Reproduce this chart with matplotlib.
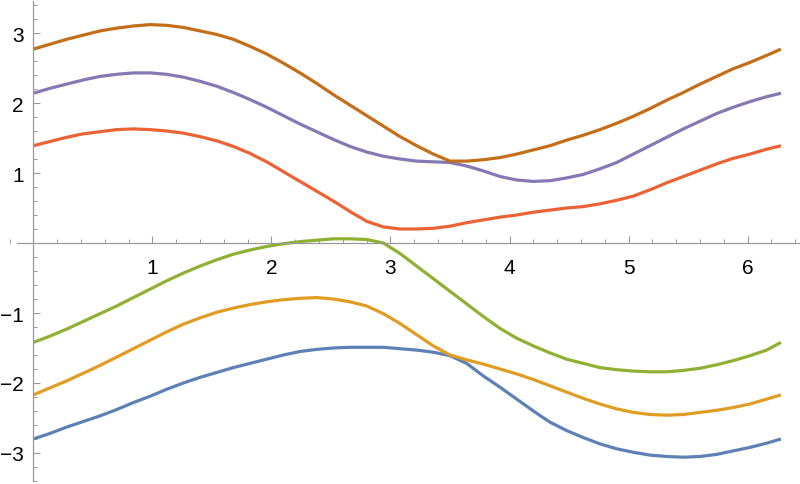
import numpy as np
from matplotlib import pyplot as plt
from matplotlib.ticker import MultipleLocator

# sample positions (shared by all curves)
x = [0.00, 0.14, 0.28, 0.42, 0.56, 0.70, 0.84, 0.98, 1.12, 1.26, 1.40, 1.54,
     1.68, 1.82, 1.96, 2.10, 2.24, 2.38, 2.52, 2.66, 2.80, 2.94, 3.08, 3.22,
     3.36, 3.50, 3.64, 3.78, 3.92, 4.06, 4.20, 4.34, 4.48, 4.62, 4.76, 4.90,
     5.04, 5.18, 5.32, 5.46, 5.60, 5.74, 5.88, 6.02, 6.16, 6.28]

blue = [-2.80, -2.72, -2.63, -2.55, -2.47, -2.38, -2.28, -2.19, -2.09, -2.00,
        -1.92, -1.85, -1.78, -1.72, -1.66, -1.60, -1.55, -1.52, -1.50, -1.49,
        -1.49, -1.49, -1.51, -1.53, -1.56, -1.61, -1.72, -1.90, -2.06, -2.23,
        -2.40, -2.56, -2.68, -2.78, -2.87, -2.94, -2.99, -3.03, -3.05, -3.06,
        -3.05, -3.02, -2.97, -2.92, -2.86, -2.80]
orange = [-2.17, -2.07, -1.97, -1.86, -1.75, -1.63, -1.51, -1.39, -1.27, -1.16,
          -1.07, -0.99, -0.93, -0.88, -0.84, -0.81, -0.79, -0.78, -0.80, -0.84,
          -0.90, -1.01, -1.15, -1.31, -1.47, -1.60, -1.67, -1.73, -1.80, -1.87,
          -1.95, -2.04, -2.13, -2.22, -2.30, -2.37, -2.42, -2.45, -2.46, -2.45,
          -2.42, -2.39, -2.35, -2.30, -2.23, -2.17]
green = [-1.42, -1.33, -1.23, -1.12, -1.01, -0.90, -0.78, -0.66, -0.54, -0.43,
         -0.33, -0.24, -0.16, -0.10, -0.05, -0.01, 0.02, 0.04, 0.06, 0.06,
         0.05, 0.00, -0.15, -0.33, -0.51, -0.69, -0.87, -1.05, -1.22, -1.36,
         -1.47, -1.57, -1.66, -1.72, -1.78, -1.81, -1.83, -1.84, -1.84, -1.82,
         -1.79, -1.74, -1.68, -1.61, -1.53, -1.42]
red = [1.39, 1.45, 1.51, 1.56, 1.59, 1.62, 1.63, 1.62, 1.60, 1.57,
       1.52, 1.46, 1.38, 1.28, 1.16, 1.02, 0.88, 0.74, 0.60, 0.45,
       0.31, 0.23, 0.20, 0.20, 0.21, 0.24, 0.29, 0.33, 0.37, 0.40,
       0.44, 0.47, 0.50, 0.52, 0.56, 0.61, 0.67, 0.76, 0.86, 0.95,
       1.04, 1.13, 1.21, 1.27, 1.34, 1.39]
purple = [2.14, 2.21, 2.27, 2.33, 2.38, 2.41, 2.43, 2.43, 2.41, 2.37,
          2.31, 2.24, 2.15, 2.05, 1.94, 1.82, 1.70, 1.59, 1.48, 1.38,
          1.30, 1.24, 1.20, 1.17, 1.16, 1.15, 1.10, 1.03, 0.95, 0.90,
          0.88, 0.89, 0.93, 0.98, 1.06, 1.15, 1.27, 1.39, 1.51, 1.63,
          1.74, 1.85, 1.94, 2.02, 2.09, 2.14]
brown = [2.77, 2.84, 2.91, 2.97, 3.03, 3.07, 3.10, 3.12, 3.11, 3.08,
         3.03, 2.98, 2.91, 2.81, 2.70, 2.57, 2.43, 2.28, 2.12, 1.97,
         1.82, 1.67, 1.52, 1.39, 1.27, 1.17, 1.17, 1.19, 1.22, 1.27,
         1.33, 1.39, 1.47, 1.54, 1.62, 1.71, 1.81, 1.92, 2.04, 2.15,
         2.27, 2.38, 2.49, 2.58, 2.68, 2.77]

series = [blue, orange, green, red, purple, brown]
colours = ['#5E81B5', '#E19C24', '#8FB032', '#EB6235', '#8778B3', '#C56E1A']

plt.rcParams['font.family'] = ['Liberation Sans', 'DejaVu Sans']

fig = plt.figure(figsize=(8, 4.85), dpi=100)
ax = fig.add_axes([0, 0, 1, 1])

for ys, c in zip(series, colours):
    ax.plot(x, ys, color=c, lw=2.3, solid_capstyle='butt', solid_joinstyle='round')

ax.set_xlim(-0.28, 6.44)
ax.set_ylim(-3.443, 3.486)

# axes through the origin, Mathematica style
ax.spines['left'].set_position(('data', 0))
ax.spines['bottom'].set_position(('data', 0))
ax.spines['right'].set_visible(False)
ax.spines['top'].set_visible(False)
ax.spines['left'].set_bounds(-3.40, 3.46)
ax.spines['bottom'].set_bounds(-0.14, 6.44)
for s in ['left', 'bottom']:
    ax.spines[s].set_color('#9a9a9a')
    ax.spines[s].set_linewidth(0.9)

ax.set_xticks([1, 2, 3, 4, 5, 6])
ax.set_yticks([-3, -2, -1, 1, 2, 3])
ax.xaxis.set_minor_locator(MultipleLocator(0.2))
ax.yaxis.set_minor_locator(MultipleLocator(0.2))
ax.tick_params(which='major', direction='in', length=5, width=0.8,
               color='#9a9a9a', labelsize=15, labelcolor='black')
ax.tick_params(which='minor', direction='in', length=3, width=0.7, color='#9a9a9a')
ax.tick_params(axis='x', which='major', pad=11)
ax.tick_params(axis='y', which='major', pad=7)

plt.savefig('out.png', dpi=100)
